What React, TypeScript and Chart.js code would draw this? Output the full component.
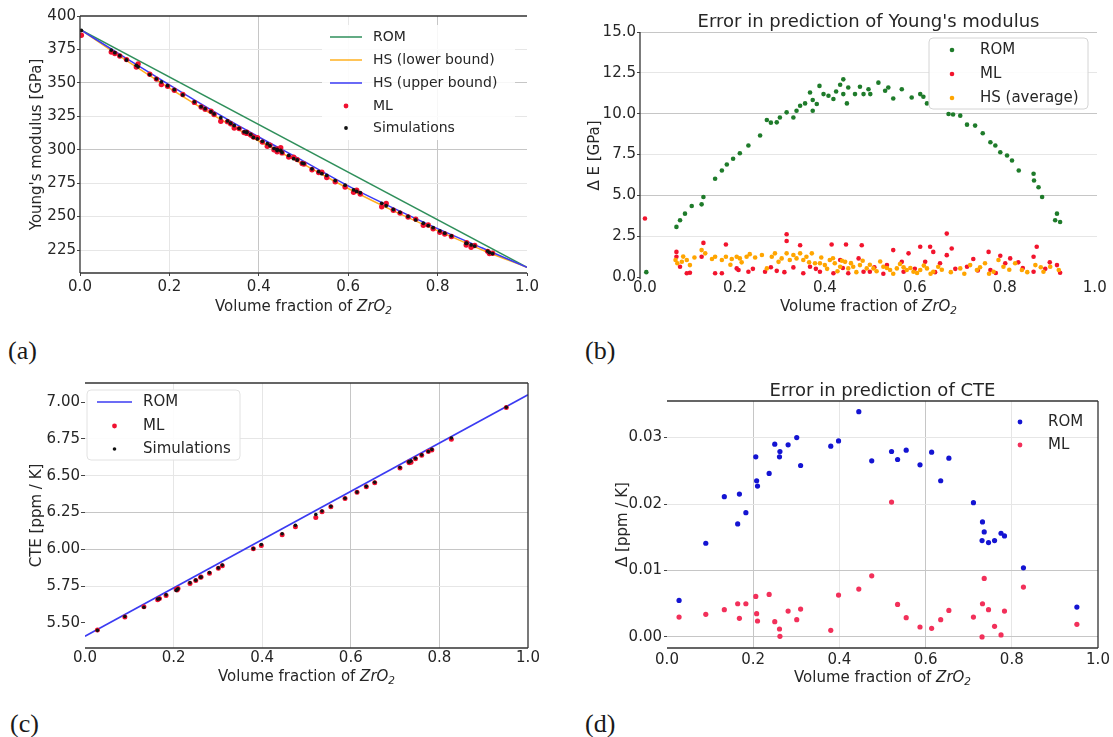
import React, { useEffect, useRef } from "react";
import { Chart, registerables } from "chart.js";
Chart.register(...registerables);

const FONT = "'DejaVu Sans', sans-serif";
const TEXT = "#262626";
const STRONG = "#c6c6c6";
const FAINT = "#e6e6e6";

// ---------------- data: panel (a) ----------------
const xTicks = [0, 0.2, 0.4, 0.6, 0.8, 1.0];
const aYTicks = [225, 250, 275, 300, 325, 350, 375, 400];
const romLineX = [0, 1];
const romLineE = [390, 212];
const hsX = [0, 0.1, 0.2, 0.3, 0.4, 0.5, 0.6, 0.7, 0.8, 0.9, 1.0];
const hsUpperE = [390, 369, 348.5, 328.5, 309.5, 291.5, 273, 256.5, 241, 226.5, 212];
const hsLowerE = [390, 367.5, 346, 325.5, 306.5, 289, 271, 254.5, 239.5, 225, 212];
const simX = [0.003, 0.070, 0.078, 0.089, 0.104, 0.126, 0.130, 0.156, 0.171, 0.182, 0.196, 0.211, 0.230, 0.256, 0.271, 0.280, 0.293, 0.300, 0.315, 0.330, 0.337, 0.345, 0.356, 0.367, 0.373, 0.373, 0.382, 0.388, 0.397, 0.408, 0.419, 0.425, 0.434, 0.441, 0.441, 0.449, 0.452, 0.467, 0.478, 0.486, 0.497, 0.501, 0.519, 0.534, 0.541, 0.552, 0.571, 0.593, 0.612, 0.619, 0.627, 0.675, 0.685, 0.701, 0.716, 0.734, 0.751, 0.768, 0.779, 0.790, 0.805, 0.816, 0.831, 0.864, 0.865, 0.875, 0.883, 0.912, 0.916, 0.923];
const simE = [389.2, 374.5, 372.6, 370.3, 367.1, 363.1, 362.0, 356.2, 353.0, 350.7, 347.9, 344.9, 341.0, 335.8, 332.2, 330.7, 328.4, 326.8, 323.9, 321.5, 319.8, 318.1, 316.0, 313.4, 313.4, 312.8, 311.4, 309.2, 308.1, 306.3, 304.5, 303.0, 301.0, 299.4, 300.3, 299.5, 297.9, 295.7, 293.3, 292.3, 290.0, 289.6, 285.7, 283.6, 282.1, 280.8, 276.9, 273.5, 269.9, 268.8, 267.8, 259.9, 258.1, 255.3, 253.2, 250.1, 247.5, 245.0, 243.3, 241.7, 239.3, 237.6, 235.6, 229.9, 230.1, 228.8, 227.9, 224.2, 223.1, 222.3];
const mlE = [385.6, 373.0, 372.0, 370.1, 367.4, 361.9, 364.1, 356.4, 352.8, 348.7, 347.4, 344.5, 341.3, 335.4, 331.9, 330.3, 328.8, 326.3, 321.3, 321.0, 319.4, 316.2, 315.8, 312.8, 313.1, 312.2, 311.0, 309.5, 308.9, 305.7, 302.5, 303.3, 300.0, 298.4, 300.6, 301.5, 297.6, 294.5, 294.4, 292.6, 289.7, 289.3, 285.0, 283.0, 283.2, 279.2, 276.0, 272.1, 268.1, 269.7, 266.9, 257.3, 259.8, 254.7, 252.6, 249.7, 248.1, 243.5, 243.7, 240.8, 238.2, 237.0, 235.1, 228.7, 230.4, 227.0, 228.4, 224.0, 222.4, 222.6];

// ---------------- data: panel (b) ----------------
const bYTicks = [0, 2.5, 5, 7.5, 10, 12.5, 15];
const romErrE = [0.3, 3.07, 3.48, 3.88, 4.35, 4.45, 4.9, 6.02, 6.52, 6.89, 7.24, 7.58, 8.05, 8.66, 9.61, 9.45, 9.47, 9.77, 10.08, 9.77, 10.18, 10.49, 10.63, 11.3, 10.18, 10.84, 10.59, 11.7, 11.2, 11.1, 10.9, 11.36, 11.77, 12.1, 11.2, 10.63, 11.6, 11.2, 11.65, 11.2, 11.5, 11.2, 11.9, 11.4, 11.6, 10.93, 11.5, 10.99, 11.2, 11.04, 10.63, 9.98, 9.95, 9.88, 9.33, 9.27, 8.8, 8.25, 8.05, 7.64, 7.44, 7.13, 6.52, 6.32, 5.91, 5.5, 4.9, 3.48, 3.88, 3.37];
const mlErrX = [0.000, 0.070, 0.070, 0.078, 0.093, 0.100, 0.126, 0.130, 0.156, 0.171, 0.180, 0.204, 0.208, 0.230, 0.267, 0.293, 0.315, 0.315, 0.330, 0.345, 0.352, 0.367, 0.389, 0.415, 0.419, 0.434, 0.447, 0.452, 0.475, 0.482, 0.486, 0.500, 0.538, 0.552, 0.571, 0.575, 0.586, 0.612, 0.623, 0.634, 0.641, 0.656, 0.671, 0.671, 0.682, 0.716, 0.740, 0.764, 0.768, 0.801, 0.812, 0.840, 0.864, 0.864, 0.871, 0.916, 0.923,
  0.240, 0.280, 0.310, 0.380, 0.440, 0.510, 0.530, 0.600, 0.645, 0.690, 0.730, 0.780, 0.790, 0.830, 0.890, 0.900];
const mlErrE = [3.58, 1.54, 1.24, 0.63, 0.23, 0.26, 1.24, 2.09, 0.23, 0.23, 1.99, 0.53, 0.43, 0.32, 0.32, 0.38, 2.62, 2.21, 0.59, 1.95, 0.23, 0.63, 0.32, 1.99, 0.23, 1.04, 1.99, 0.23, 1.14, 1.95, 0.32, 0.32, 0.73, 1.65, 0.93, 0.32, 1.45, 1.85, 0.93, 1.85, 1.54, 0.84, 2.66, 1.34, 1.75, 0.63, 0.40, 1.54, 0.43, 0.84, 1.14, 0.55, 1.24, 0.32, 1.85, 0.73, 0.26,
  0.50, 0.60, 0.30, 0.50, 0.55, 0.60, 0.20, 0.50, 0.30, 0.50, 1.10, 0.25, 1.30, 0.90, 0.50, 0.90];
const hsErrX = [0.068, 0.072, 0.082, 0.093, 0.100, 0.126, 0.134, 0.149, 0.156, 0.171, 0.180, 0.193, 0.204, 0.211, 0.226, 0.233, 0.260, 0.271, 0.282, 0.289, 0.297, 0.304, 0.315, 0.322, 0.330, 0.337, 0.345, 0.352, 0.359, 0.371, 0.378, 0.389, 0.400, 0.411, 0.422, 0.434, 0.445, 0.452, 0.463, 0.478, 0.493, 0.508, 0.530, 0.545, 0.560, 0.582, 0.597, 0.612, 0.627, 0.641, 0.652, 0.701, 0.723, 0.738, 0.756, 0.775, 0.786, 0.797, 0.823, 0.838, 0.868, 0.886, 0.901, 0.920,
  0.365, 0.392, 0.405, 0.418, 0.428, 0.438, 0.458, 0.470, 0.484, 0.500, 0.515, 0.523, 0.538, 0.552, 0.567, 0.575, 0.590, 0.605, 0.620, 0.635, 0.660, 0.680, 0.710, 0.745, 0.765, 0.810, 0.850, 0.880, 0.245, 0.215, 0.190, 0.110, 0.085];
const hsErrE = [1.04, 0.84, 0.94, 1.04, 0.73, 1.65, 1.45, 1.10, 1.24, 1.04, 1.24, 1.10, 1.24, 1.14, 1.24, 1.40, 1.35, 0.53, 1.24, 1.45, 0.93, 1.14, 1.45, 1.04, 1.35, 1.14, 1.45, 1.04, 1.24, 1.45, 0.84, 0.84, 0.73, 1.04, 0.84, 0.63, 0.93, 0.53, 0.63, 0.73, 0.53, 0.53, 0.63, 0.43, 0.53, 0.43, 0.32, 0.43, 0.53, 0.32, 0.63, 0.53, 0.73, 0.43, 0.84, 0.32, 1.04, 0.63, 0.84, 0.43, 0.73, 0.32, 0.63, 0.43,
  0.90, 1.20, 0.50, 1.15, 0.35, 1.00, 0.85, 0.30, 1.00, 0.75, 0.35, 0.95, 0.55, 0.20, 0.80, 0.60, 0.55, 0.25, 0.70, 0.20, 0.45, 0.30, 0.20, 0.60, 0.20, 0.45, 0.30, 0.60, 1.20, 0.90, 0.75, 1.20, 1.25];

// ---------------- data: panels (c) and (d) ----------------
const cYTicks = [5.5, 5.75, 6.0, 6.25, 6.5, 6.75, 7.0];
const cteRomX = [0, 1];
const cteRomV = [5.41, 7.05];
const dX = [0.028, 0.090, 0.133, 0.164, 0.168, 0.183, 0.206, 0.208, 0.210, 0.237, 0.250, 0.261, 0.262, 0.281, 0.301, 0.310, 0.380, 0.398, 0.445, 0.475, 0.521, 0.535, 0.555, 0.587, 0.614, 0.635, 0.654, 0.711, 0.731, 0.732, 0.736, 0.746, 0.760, 0.775, 0.783, 0.827, 0.951];
const cteSim = [5.450, 5.544, 5.607, 5.662, 5.664, 5.691, 5.721, 5.727, 5.732, 5.774, 5.791, 5.811, 5.812, 5.842, 5.874, 5.893, 6.005, 6.033, 6.106, 6.163, 6.237, 6.261, 6.292, 6.347, 6.389, 6.428, 6.456, 6.556, 6.594, 6.593, 6.601, 6.619, 6.642, 6.665, 6.679, 6.756, 6.965];
const cteMl = [5.453, 5.541, 5.611, 5.657, 5.667, 5.686, 5.727, 5.724, 5.734, 5.768, 5.789, 5.810, 5.812, 5.838, 5.871, 5.888, 6.004, 6.027, 6.099, 6.154, 6.216, 6.256, 6.289, 6.345, 6.388, 6.425, 6.452, 6.553, 6.594, 6.588, 6.592, 6.615, 6.640, 6.665, 6.675, 6.748, 6.963];
const dYTicks = [0, 0.01, 0.02, 0.03];
const dRomErr = [0.0055, 0.0141, 0.0211, 0.0170, 0.0215, 0.0187, 0.0271, 0.0235, 0.0227, 0.0246, 0.0290, 0.0271, 0.0279, 0.0289, 0.0300, 0.0258, 0.0287, 0.0295, 0.0339, 0.0265, 0.0279, 0.0267, 0.0281, 0.0259, 0.0278, 0.0235, 0.0269, 0.0202, 0.0145, 0.0173, 0.0158, 0.0142, 0.0145, 0.0156, 0.0152, 0.0104, 0.0045];
const dMlErr = [0.0030, 0.0034, 0.0041, 0.0050, 0.0028, 0.0050, 0.0061, 0.0035, 0.0024, 0.0064, 0.0023, 0.0012, 0.0001, 0.0039, 0.0026, 0.0042, 0.0010, 0.0063, 0.0072, 0.0092, 0.0203, 0.0049, 0.0029, 0.0015, 0.0013, 0.0026, 0.0040, 0.0030, 0.0000, 0.0050, 0.0088, 0.0041, 0.0016, 0.0003, 0.0039, 0.0075, 0.0019];

// ---------------- helpers ----------------
const pts = (xs: number[], ys: number[]) => xs.map((x, i) => ({ x, y: ys[i] }));
const has = (arr: number[], v: number) => arr.some((a) => Math.abs(a - v) < 1e-9);

function scale(o: any) {
  return {
    type: "linear",
    min: o.min,
    max: o.max,
    afterBuildTicks: (s: any) => {
      s.ticks = o.ticks.map((v: number) => ({ value: v }));
    },
    afterFit: (s: any) => {
      if (o.horizontal) s.height = o.size;
      else s.width = o.size;
    },
    ticks: {
      callback: (v: any) => Number(v).toFixed(o.dec),
      color: TEXT,
      font: { family: FONT, size: 15 },
      padding: o.pad,
      autoSkip: false,
      maxRotation: 0,
    },
    grid: {
      display: true,
      color: (c: any) => {
        const v = c.tick ? c.tick.value : NaN;
        if (has(o.strong || [], v)) return STRONG;
        if (has(o.faint || [], v)) return FAINT;
        return "rgba(0,0,0,0)";
      },
      tickColor: "#444",
      tickLength: o.tickLen || 0,
      drawTicks: (o.tickLen || 0) > 0,
      lineWidth: 1,
    },
    border: { display: false },
    title: o.title
      ? {
          display: true,
          text: o.title,
          color: TEXT,
          font: { family: FONT, size: 15 },
          padding: { top: o.titleOffset, bottom: 0 },
        }
      : { display: false },
  };
}

function xTitlePlugin(yc: number) {
  return {
    id: "xTitleMixed",
    afterDraw(chart: any) {
      const { ctx, chartArea } = chart;
      const cx = (chartArea.left + chartArea.right) / 2;
      const parts: any[] = [
        { t: "Volume fraction of ", f: `15px ${FONT}`, dy: 0 },
        { t: "ZrO", f: `italic 15px ${FONT}`, dy: 0 },
        { t: "2", f: `italic 10.5px ${FONT}`, dy: 3.5 },
      ];
      ctx.save();
      let w = 0;
      parts.forEach((p) => {
        ctx.font = p.f;
        p.w = ctx.measureText(p.t).width;
        w += p.w;
      });
      let x = cx - w / 2;
      ctx.fillStyle = TEXT;
      ctx.textBaseline = "alphabetic";
      ctx.textAlign = "left";
      const base = yc + 5.5;
      parts.forEach((p) => {
        ctx.font = p.f;
        ctx.fillText(p.t, x, base + p.dy);
        x += p.w;
      });
      ctx.restore();
    },
  };
}

function titlePlugin(text: string, yc: number) {
  return {
    id: "panelTitle",
    afterDraw(chart: any) {
      const { ctx, chartArea } = chart;
      ctx.save();
      ctx.font = `18px ${FONT}`;
      ctx.fillStyle = TEXT;
      ctx.textAlign = "center";
      ctx.textBaseline = "middle";
      ctx.fillText(text, (chartArea.left + chartArea.right) / 2, yc);
      ctx.restore();
    },
  };
}

function spinesPlugin(s: { top?: boolean; right?: boolean; bottom?: boolean; left?: boolean }) {
  return {
    id: "spines",
    afterDatasetsDraw(chart: any) {
      const { ctx, chartArea: a } = chart;
      ctx.save();
      ctx.strokeStyle = "#333";
      ctx.lineWidth = 1.3;
      ctx.beginPath();
      if (s.top) { ctx.moveTo(a.left, a.top); ctx.lineTo(a.right, a.top); }
      if (s.bottom) { ctx.moveTo(a.left, a.bottom); ctx.lineTo(a.right, a.bottom); }
      if (s.left) { ctx.moveTo(a.left, a.top); ctx.lineTo(a.left, a.bottom); }
      if (s.right) { ctx.moveTo(a.right, a.top); ctx.lineTo(a.right, a.bottom); }
      ctx.stroke();
      ctx.restore();
    },
  };
}

function legendPlugin(cfg: {
  rows: number[];
  handle: [number, number];
  textX: number;
  font: number;
  box?: { x: number; y: number; w: number; h: number; stroke?: string };
}) {
  return {
    id: "customLegend",
    afterDraw(chart: any) {
      const ctx = chart.ctx;
      ctx.save();
      if (cfg.box) {
        const b = cfg.box;
        ctx.beginPath();
        ctx.roundRect(b.x, b.y, b.w, b.h, 4);
        ctx.fillStyle = "rgba(255,255,255,0.85)";
        ctx.fill();
        if (b.stroke) {
          ctx.strokeStyle = b.stroke;
          ctx.lineWidth = 1;
          ctx.stroke();
        }
      }
      chart.data.datasets.forEach((ds: any, i: number) => {
        const y = cfg.rows[i];
        if (y === undefined) return;
        const [h0, h1] = cfg.handle;
        if (ds.showLine) {
          ctx.strokeStyle = ds.borderColor;
          ctx.lineWidth = ds.borderWidth;
          ctx.beginPath();
          ctx.moveTo(h0, y);
          ctx.lineTo(h1, y);
          ctx.stroke();
        } else {
          ctx.fillStyle = ds.backgroundColor;
          ctx.beginPath();
          ctx.arc((h0 + h1) / 2, y, Math.min(ds.pointRadius, 2.4), 0, Math.PI * 2);
          ctx.fill();
        }
        ctx.fillStyle = TEXT;
        ctx.font = `${cfg.font}px ${FONT}`;
        ctx.textAlign = "left";
        ctx.textBaseline = "middle";
        ctx.fillText(ds.label, cfg.textX, y);
      });
      ctx.restore();
    },
  };
}

function baseOptions(padding: any, scales: any) {
  return {
    animation: false,
    responsive: false,
    devicePixelRatio: 1,
    events: [],
    layout: { padding },
    plugins: { legend: { display: false }, tooltip: { enabled: false }, title: { display: false } },
    scales,
  };
}

const lineDs = (label: string, xs: number[], ys: number[], color: string, order: number) => ({
  label,
  data: pts(xs, ys),
  showLine: true,
  borderColor: color,
  backgroundColor: color,
  borderWidth: 1.5,
  pointRadius: 0,
  fill: false,
  cubicInterpolationMode: "monotone",
  order,
});
const dotDs = (label: string, xs: number[], ys: number[], color: string, r: number, order: number) => ({
  label,
  data: pts(xs, ys),
  showLine: false,
  backgroundColor: color,
  borderColor: color,
  borderWidth: 0,
  pointRadius: r,
  order,
});

// ---------------- panel configs ----------------
function configA(): any {
  return {
    type: "scatter",
    data: {
      datasets: [
        lineDs("ROM", romLineX, romLineE, "#2f8f5b", 4),
        lineDs("HS (lower bound)", hsX, hsLowerE, "#ffb020", 3),
        lineDs("HS (upper bound)", hsX, hsUpperE, "#3a3af5", 2),
        dotDs("ML", simX, mlE, "#f01030", 2.7, 1),
        dotDs("Simulations", simX, simE, "#111111", 1.9, 0),
      ],
    },
    options: baseOptions(
      { left: 0, right: 18, top: 16, bottom: 0 },
      {
        x: scale({ min: 0, max: 1, ticks: xTicks, dec: 1, horizontal: true, size: 57, pad: 2, tickLen: 3, strong: [0.4, 0.8], faint: [0.2, 0.6] }),
        y: scale({ min: 207.8, max: 400, ticks: aYTicks, dec: 0, size: 80, pad: 1, tickLen: 3, strong: [300, 350], faint: [225, 250, 275, 325, 375], title: "Young's modulus [GPa]", titleOffset: 28 }),
      }
    ),
    plugins: [
      spinesPlugin({ top: true, left: true, bottom: true }),
      xTitlePlugin(305),
      legendPlugin({ rows: [37, 60, 83, 106, 128], handle: [330, 362], textX: 373, font: 14, box: { x: 322, y: 25, w: 193, h: 115 } }),
    ],
  };
}

function configB(): any {
  return {
    type: "scatter",
    data: {
      datasets: [
        dotDs("ROM", simX, romErrE, "#1e7b2a", 2.3, 2),
        dotDs("ML", mlErrX, mlErrE, "#f2142d", 2.3, 1),
        dotDs("HS (average)", hsErrX, hsErrE, "#ffa500", 2.3, 0),
      ],
    },
    options: baseOptions(
      { left: 0, right: 16, top: 32, bottom: 0 },
      {
        x: scale({ min: -0.011, max: 1.005, ticks: xTicks, dec: 1, horizontal: true, size: 51, pad: 0, tickLen: 0 }),
        y: scale({ min: -0.12, max: 15, ticks: bYTicks, dec: 1, size: 80, pad: 1, tickLen: 3, strong: [5, 10, 15], faint: [2.5, 7.5, 12.5], title: "Δ E [GPa]", titleOffset: 26 }),
      }
    ),
    plugins: [
      spinesPlugin({ left: true }),
      titlePlugin("Error in prediction of Young's modulus", 22),
      xTitlePlugin(305),
      legendPlugin({ rows: [50, 74, 98], handle: [382, 402], textX: 420, font: 15, box: { x: 369, y: 38, w: 159, h: 71, stroke: "#d4d4d4" } }),
    ],
  };
}

function configC(): any {
  return {
    type: "scatter",
    data: {
      datasets: [
        lineDs("ROM", cteRomX, cteRomV, "#3b3bf2", 2),
        dotDs("ML", dX, cteMl, "#f01030", 2.5, 1),
        dotDs("Simulations", dX, cteSim, "#111111", 1.8, 0),
      ],
    },
    options: baseOptions(
      { left: 0, right: 32, top: 13, bottom: 0 },
      {
        x: scale({ min: 0, max: 1, ticks: xTicks, dec: 1, horizontal: true, size: 52, pad: 1, tickLen: 0, strong: [0.6, 0.8], faint: [0.2, 0.4] }),
        y: scale({ min: 5.33, max: 7.13, ticks: cYTicks, dec: 2, size: 85, pad: 1, tickLen: 4, strong: [6.0, 6.25], faint: [5.75, 6.5, 6.75], title: "CTE [ppm / K]", titleOffset: 28 }),
      }
    ),
    plugins: [
      spinesPlugin({ top: true, right: true, bottom: true }),
      xTitlePlugin(305),
      legendPlugin({ rows: [32, 56, 79], handle: [97, 132], textX: 143, font: 15, box: { x: 87, y: 20, w: 153, h: 70, stroke: "#e2e2e2" } }),
    ],
  };
}

function configD(): any {
  return {
    type: "scatter",
    data: {
      datasets: [
        dotDs("ROM", dX, dRomErr, "#1414d2", 2.6, 1),
        dotDs("ML", dX, dMlErr, "#f2305a", 2.6, 0),
      ],
    },
    options: baseOptions(
      { left: 0, right: 15, top: 31, bottom: 0 },
      {
        x: scale({ min: 0, max: 1, ticks: xTicks, dec: 1, horizontal: true, size: 52, pad: 3, tickLen: 0, strong: [0.2, 0.6], faint: [0.4, 0.8] }),
        y: scale({ min: -0.00166, max: 0.0355, ticks: dYTicks, dec: 2, size: 107, pad: 2, tickLen: 3, strong: [0, 0.01], faint: [0.02, 0.03], title: "Δ [ppm / K]", titleOffset: 54 }),
      }
    ),
    plugins: [
      spinesPlugin({ top: true, right: true, bottom: true }),
      titlePlugin("Error in prediction of CTE", 21),
      xTitlePlugin(306),
      legendPlugin({ rows: [52, 75], handle: [450, 470], textX: 488, font: 15 }),
    ],
  };
}

function Panel({ left, top, width, height, make }: { left: number; top: number; width: number; height: number; make: () => any }) {
  const ref = useRef<HTMLCanvasElement>(null);
  useEffect(() => {
    const chart = new Chart(ref.current as HTMLCanvasElement, make());
    return () => chart.destroy();
  }, []);
  return (
    <canvas
      ref={ref}
      width={width}
      height={height}
      style={{ position: "absolute", left, top, width, height }}
    />
  );
}

const labelStyle = (left: number, top: number): React.CSSProperties => ({
  position: "absolute",
  left,
  top,
  fontFamily: "'Liberation Serif', 'Times New Roman', serif",
  fontSize: 26,
  lineHeight: "26px",
  color: "#1a1a1a",
});

export default function App() {
  return (
    <div style={{ position: "absolute", left: 0, top: 0, width: 1113, height: 737, background: "#fff", overflow: "hidden" }}>
      <Panel left={0} top={0} width={545} height={330} make={configA} />
      <Panel left={560} top={0} width={553} height={330} make={configB} />
      <Panel left={0} top={370} width={560} height={330} make={configC} />
      <Panel left={560} top={370} width={553} height={330} make={configD} />
      <div style={labelStyle(8, 338)}>(a)</div>
      <div style={labelStyle(585, 338)}>(b)</div>
      <div style={labelStyle(10, 711)}>(c)</div>
      <div style={labelStyle(585, 711)}>(d)</div>
    </div>
  );
}
